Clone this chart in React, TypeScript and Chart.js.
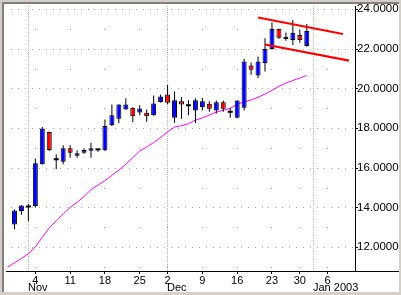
import React, { useEffect, useRef } from 'react';
import { Chart, registerables } from 'chart.js';

Chart.register(...registerables);

// Trading sessions (index = position on the x axis)
const sessions = [
  '2002-10-29', '2002-10-30', '2002-10-31', '2002-11-01',
  '2002-11-04', '2002-11-05', '2002-11-06', '2002-11-07', '2002-11-08',
  '2002-11-11', '2002-11-12', '2002-11-13', '2002-11-14', '2002-11-15',
  '2002-11-18', '2002-11-19', '2002-11-20', '2002-11-21', '2002-11-22',
  '2002-11-25', '2002-11-26', '2002-11-27', '2002-11-29',
  '2002-12-02', '2002-12-03', '2002-12-04', '2002-12-05', '2002-12-06',
  '2002-12-09', '2002-12-10', '2002-12-11', '2002-12-12', '2002-12-13',
  '2002-12-16', '2002-12-17', '2002-12-18', '2002-12-19', '2002-12-20',
  '2002-12-23', '2002-12-24', '2002-12-26', '2002-12-27',
  '2002-12-30', '2002-12-31', '2003-01-02', '2003-01-03', '2003-01-06',
];

const openPrices = [
  null, 13.14, 13.82, 14.05,
  14.07, 16.18, 17.8, 16.43, 16.31,
  16.98, 16.6, 16.76, 16.86, 16.93,
  16.88, 18.14, 18.47, 18.94, 19.02,
  18.79, 18.77, 18.64, 19.32,
  19.69, 18.52, 19.35, 19.15, 18.89,
  19.05, 19.22, 18.89, 19.3, 18.82,
  18.52, 19.02, 21.15, 20.65, 21.27,
  21.99, 22.99, 22.49, 22.44,
  22.69, 22.14,
];
const highPrices = [
  null, 13.9, 14.12, 14.18,
  16.47, 18.05, 17.82, 16.68, 17.13,
  17.13, 16.88, 16.98, 17.26, 16.95,
  18.43, 19.19, 19.2, 19.5, 19.05,
  19.15, 18.94, 19.64, 19.69,
  20.17, 19.84, 19.57, 19.4, 19.5,
  19.52, 19.35, 19.39, 19.39, 19.02,
  19.4, 21.49, 21.3, 21.6, 22.52,
  23.32, 23.0, 22.82, 23.44,
  22.94, 23.24,
];
const lowPrices = [
  null, 12.9, 13.63, 13.3,
  14.0, 16.15, 16.85, 15.93, 16.18,
  16.51, 16.51, 16.71, 16.51, 16.81,
  16.85, 18.1, 18.24, 18.92, 18.3,
  18.64, 18.32, 18.62, 19.27,
  19.2, 18.27, 18.47, 18.65, 18.24,
  18.89, 18.82, 18.74, 18.82, 18.52,
  18.5, 18.89, 20.69, 20.52, 20.85,
  21.95, 22.49, 22.4, 22.19,
  22.3, 22.1,
];
const closePrices = [
  null, 13.85, 14.1, 14.05,
  16.23, 17.98, 16.9, 16.43, 16.98,
  16.76, 16.73, 16.9, 16.98, 16.93,
  18.1, 18.65, 19.19, 19.19, 18.6,
  18.99, 18.6, 19.24, 19.59,
  19.27, 19.4, 19.19, 19.15, 19.4,
  19.35, 18.97, 19.3, 18.97, 18.82,
  19.39, 21.35, 20.94, 21.35, 21.98,
  22.99, 22.55, 22.6, 22.8,
  22.44, 22.89,
];
const movingAvg = [
  10.99, 11.21, 11.43, 11.67,
  12.02, 12.5, 12.98, 13.32, 13.67,
  14.0, 14.26, 14.55, 14.9, 15.13,
  15.35, 15.62, 15.88, 16.18, 16.51,
  16.85, 17.05, 17.27, 17.53,
  17.81, 18.05, 18.12, 18.22, 18.4,
  18.51, 18.66, 18.8, 18.9, 18.99,
  19.2, 19.32, 19.42, 19.55, 19.72,
  19.9, 20.1, 20.27, 20.4,
  20.52, 20.65,
];

const dayTickDates = [
  '2002-11-04', '2002-11-11', '2002-11-18', '2002-11-25', '2002-12-02',
  '2002-12-09', '2002-12-16', '2002-12-23', '2002-12-30', '2003-01-06',
];
const dayTickLabels = ['4', '11', '18', '25', '2', '9', '16', '23', '30', '6'];
const monthStartDates = ['2002-11-01', '2002-12-02', '2003-01-02'];
const monthLabels = ['Nov', 'Dec', 'Jan 2003'];
const priceTicks = [12, 14, 16, 18, 20, 22, 24];
const gridValues = [11, 12, 13, 14, 15, 16, 17, 18, 19, 20, 21, 22, 23, 24];

// Channel lines (session index, price)
const upperTrendX = [36, 48.2];
const upperTrendY = [23.57, 22.74];
const lowerTrendX = [37, 49.07];
const lowerTrendY = [22.21, 21.4];

const X_MIN = -0.2143;
const X_MAX = X_MIN + 351 / 7;
const Y_MIN = 10.8;
const Y_MAX = 24.15;
const FONT = 'Liberation Sans, Arial, sans-serif';

export default function App() {
  const ref = useRef<HTMLCanvasElement>(null);

  useEffect(() => {
    document.body.style.margin = '0';
    const canvas = ref.current;
    if (!canvas) return;

    const wicks: any[] = [];
    const bodies: any[] = [];
    const bodyColors: string[] = [];
    const dojis: any[] = [];
    for (let k = 0; k < openPrices.length; k++) {
      const o = openPrices[k];
      const c = closePrices[k];
      const h = highPrices[k];
      const l = lowPrices[k];
      if (o == null || c == null || h == null || l == null) continue;
      wicks.push({ x: k, y: [l, h] });
      if (o === c) {
        dojis.push({ x: k, y: o });
      } else {
        bodies.push({ x: k, y: [Math.min(o, c), Math.max(o, c)] });
        bodyColors.push(c > o ? '#0000ff' : '#ff0000');
      }
    }
    const ma = movingAvg.map((v, k) => ({ x: k, y: v }));
    const upper = upperTrendX.map((x, i) => ({ x, y: upperTrendY[i] }));
    const lower = lowerTrendX.map((x, i) => ({ x, y: lowerTrendY[i] }));

    const custom = {
      id: 'customDecor',
      beforeDatasetsDraw(chart: any) {
        const { ctx, chartArea: a, scales } = chart;
        const xs = scales.x;
        const ys = scales.y;
        ctx.save();
        ctx.fillStyle = '#a8a8a8';
        gridValues.forEach((v) => {
          const py = Math.round(ys.getPixelForValue(v));
          if (v % 2 === 0) {
            for (let k = -1; k < 52; k++) {
              const px = Math.round(xs.getPixelForValue(k + 0.5));
              if (px >= a.left && px < a.right) ctx.fillRect(px, py, 1, 1);
            }
          } else {
            dayTickDates.forEach((d) => {
              const px = Math.floor(xs.getPixelForValue(sessions.indexOf(d)));
              if (px >= a.left && px < a.right) ctx.fillRect(px, py, 1, 1);
            });
          }
        });
        ctx.fillStyle = '#b4b4b4';
        monthStartDates.forEach((d) => {
          const px = Math.floor(xs.getPixelForValue(sessions.indexOf(d)));
          for (let yy = Math.ceil(a.top); yy < a.bottom; yy += 2) ctx.fillRect(px, yy, 1, 1);
        });
        ctx.restore();
      },
      afterDraw(chart: any) {
        const { ctx, chartArea: a, scales } = chart;
        const xs = scales.x;
        const ys = scales.y;
        ctx.save();
        ctx.fillStyle = '#000';
        // x axis line (full width) and y axis line
        ctx.fillRect(a.left, Math.round(a.bottom), 399 - a.left, 1);
        ctx.fillRect(Math.round(a.right), a.top, 1, Math.round(a.bottom) - a.top);
        // y tick marks
        priceTicks.forEach((v) => {
          const py = Math.round(ys.getPixelForValue(v));
          ctx.fillRect(Math.round(a.right), py, 3, 1);
        });
        // month labels
        ctx.font = '11px ' + FONT;
        ctx.textAlign = 'left';
        ctx.textBaseline = 'alphabetic';
        monthStartDates.forEach((d, i) => {
          const px = Math.floor(xs.getPixelForValue(sessions.indexOf(d)));
          ctx.fillText(monthLabels[i], px, 291);
        });
        ctx.restore();
      },
    };

    const chart = new Chart(canvas, {
      type: 'bar',
      data: {
        datasets: [
          {
            type: 'line',
            data: ma,
            borderColor: '#ff00ff',
            borderWidth: 1,
            pointRadius: 0,
            tension: 0,
            order: 6,
          } as any,
          {
            type: 'bar',
            data: wicks,
            backgroundColor: '#000000',
            barThickness: 1,
            grouped: false,
            inflateAmount: 0,
            order: 5,
          } as any,
          {
            type: 'bar',
            data: bodies,
            backgroundColor: bodyColors,
            borderColor: '#000000',
            borderWidth: 1,
            borderSkipped: false,
            barThickness: 5,
            grouped: false,
            inflateAmount: 0,
            order: 4,
          } as any,
          {
            type: 'line',
            data: dojis,
            showLine: false,
            pointStyle: 'line',
            pointRadius: 2.5,
            borderColor: '#000000',
            borderWidth: 2,
            order: 3,
          } as any,
          {
            type: 'line',
            data: upper,
            borderColor: '#ff0000',
            borderWidth: 2.2,
            pointRadius: 0,
            order: 2,
          } as any,
          {
            type: 'line',
            data: lower,
            borderColor: '#ff0000',
            borderWidth: 2.2,
            pointRadius: 0,
            order: 1,
          } as any,
        ],
      },
      options: {
        animation: false,
        responsive: false,
        events: [],
        layout: { padding: { left: 4, top: 4, right: 2, bottom: 3 } },
        plugins: { legend: { display: false }, tooltip: { enabled: false } },
        scales: {
          x: {
            type: 'linear',
            min: X_MIN,
            max: X_MAX,
            offset: false,
            grid: {
              display: true,
              drawOnChartArea: false,
              drawTicks: true,
              tickLength: 3,
              color: '#000000',
              offset: false,
            },
            border: { display: false },
            ticks: {
              autoSkip: false,
              maxRotation: 0,
              minRotation: 0,
              padding: 0,
              color: '#000000',
              font: { family: FONT, size: 11 },
              callback: (_v: any, i: number) => dayTickLabels[i] ?? '',
            },
            afterBuildTicks: (s: any) => {
              s.ticks = dayTickDates.map((d) => ({ value: sessions.indexOf(d) }));
            },
            afterFit: (s: any) => {
              s.height = 21;
              s.paddingLeft = 0;
              s.paddingRight = 0;
            },
          } as any,
          y: {
            type: 'linear',
            position: 'right',
            min: Y_MIN,
            max: Y_MAX,
            grid: { display: false, drawTicks: false },
            border: { display: false },
            ticks: {
              padding: 2,
              color: '#000000',
              font: { family: FONT, size: 11.5 },
              callback: (v: any) => Number(v).toFixed(4),
            },
            afterBuildTicks: (s: any) => {
              s.ticks = priceTicks.map((v) => ({ value: v }));
            },
            afterFit: (s: any) => {
              s.width = 44;
              s.paddingTop = 0;
              s.paddingBottom = 0;
            },
          } as any,
        },
      },
      plugins: [custom],
    });

    return () => chart.destroy();
  }, []);

  return (
    <div
      style={{
        position: 'absolute',
        left: 0,
        top: 0,
        width: 401,
        height: 295,
        background: '#d4d0c8',
        overflow: 'hidden',
      }}
    >
      <div
        style={{
          position: 'absolute',
          left: 2,
          top: 2,
          width: 397,
          height: 290,
          boxSizing: 'border-box',
          borderTop: '2px solid #808080',
          borderLeft: '2px solid #808080',
          background: '#ffffff',
        }}
      />
      <canvas
        ref={ref}
        width={401}
        height={295}
        style={{ position: 'absolute', left: 0, top: 0, width: 401, height: 295 }}
      />
    </div>
  );
}
